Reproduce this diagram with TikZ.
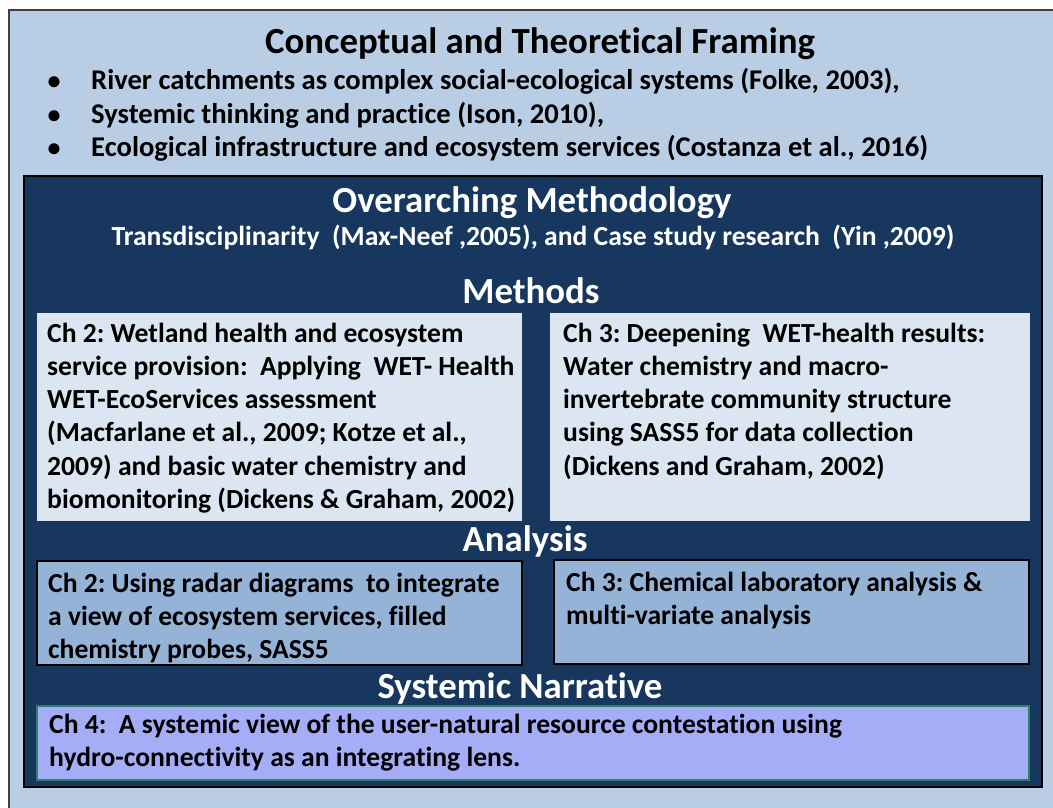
\documentclass[tikz,border=0pt]{standalone}
\usepackage{fontspec}
\setmainfont{Carlito}[Ligatures=NoCommon]
\frenchspacing
\definecolor{outerblue}{HTML}{B9CDE5}
\definecolor{navy}{HTML}{17375E}
\definecolor{paleblue}{HTML}{DCE6F2}
\definecolor{midblue}{HTML}{95B3D7}
\definecolor{lavender}{HTML}{A6ADF7}
\definecolor{tealedge}{HTML}{2F7F6F}
\definecolor{frame}{HTML}{3F3F3F}
\tikzset{
  outerbox/.style={fill=outerblue, draw=frame, line width=1.5pt},
  darkbox/.style={fill=navy, draw=black, line width=2pt},
  methbox/.style={fill=paleblue},
  anabox/.style={fill=midblue, draw=black, line width=1.2pt},
  narbox/.style={fill=lavender, draw=tealedge, line width=1.2pt},
  heading/.style={inner sep=0pt, anchor=base, font=\fontsize{36.8}{44}\selectfont\bfseries},
  headdark/.style={heading, text=white},
  body/.style={inner sep=0pt, anchor=base west, font=\fontsize{27.6}{33}\selectfont\bfseries},
  bodybullet/.style={body, font=\fontsize{28.6}{33}\selectfont\bfseries},
  subline/.style={inner sep=0pt, anchor=base, text=white, font=\fontsize{27.6}{33}\selectfont\bfseries},
  bullet/.style={inner sep=0pt, anchor=base, font=\fontsize{26}{33}\selectfont\bfseries},
}
\begin{document}
\begin{tikzpicture}[x=1pt, y=-1pt]
\useasboundingbox (0,0) rectangle (1053,808);
\clip (0,0) rectangle (1053,808);

% frames
\draw[outerbox] (9,10) rectangle (1070,830);
\draw[darkbox] (24,176) rectangle (1042,787);
\fill[methbox] (37,313) rectangle (522,521);
\fill[methbox] (550,313) rectangle (1030,521);
\draw[anabox] (37,561) rectangle (522,665);
\draw[anabox] (554,560) rectangle (1029,664);
\draw[narbox] (37,706) rectangle (1029,780);

% conceptual framing
\node[heading] (title) at (540,54) {Conceptual and Theoretical Framing};
\foreach \y/\t [count=\i] in {
  90/{River catchments as complex social-ecological systems (Folke, 2003),},
  123/{Systemic thinking and practice (Ison, 2010),},
  156/{Ecological infrastructure and ecosystem services (Costanza et al., 2016)}} {
  \node[bullet] (dot\i) at (54,\y) {•};
  \node[bodybullet] (frame\i) at (91,\y) {\t};
}

% methodology
\node[headdark] (meth) at (532,212) {Overarching Methodology};
\node[subline] (trans) at (533,245) {Transdisciplinarity\ \ (Max-Neef ,2005), and Case study research\ \ (Yin ,2009)};

\node[headdark] (methods) at (531,303) {Methods};
\foreach \y/\t [count=\i] in {
  342/{Ch 2: Wetland health and ecosystem},
  375/{service provision:\ \ Applying\ \ WET- Health},
  408/{WET-EcoServices assessment},
  441/{(Macfarlane et al., 2009; Kotze et al.,},
  475/{2009) and basic water chemistry and},
  508/{biomonitoring (Dickens \& Graham, 2002)}} {
  \node[body] (mA\i) at (47,\y) {\t};
}
\foreach \y/\t [count=\i] in {
  342/{Ch 3: Deepening\ \ WET-health results:},
  375/{Water chemistry and macro-},
  408/{invertebrate community structure},
  441/{using SASS5 for data collection},
  475/{(Dickens and Graham, 2002)}} {
  \node[body] (mB\i) at (563,\y) {\t};
}

% analysis
\node[headdark] (analysis) at (525,551) {Analysis};
\foreach \y/\t [count=\i] in {
  592/{Ch 2: Using radar diagrams\ \ to integrate},
  625/{a view of ecosystem services, filled},
  658/{chemistry probes, SASS5}} {
  \node[body] (aA\i) at (48,\y) {\t};
}
\foreach \y/\t [count=\i] in {
  591/{Ch 3: Chemical laboratory analysis \&},
  624/{multi-variate analysis}} {
  \node[body] (aB\i) at (566,\y) {\t};
}

% narrative
\node[headdark] (narr) at (520,698) {Systemic Narrative};
\node[body] (n1) at (49,733) {Ch 4:\ \ A systemic view of the user-natural resource contestation using};
\node[body] (n2) at (49,766) {hydro-connectivity as an integrating lens.};
\end{tikzpicture}
\end{document}
